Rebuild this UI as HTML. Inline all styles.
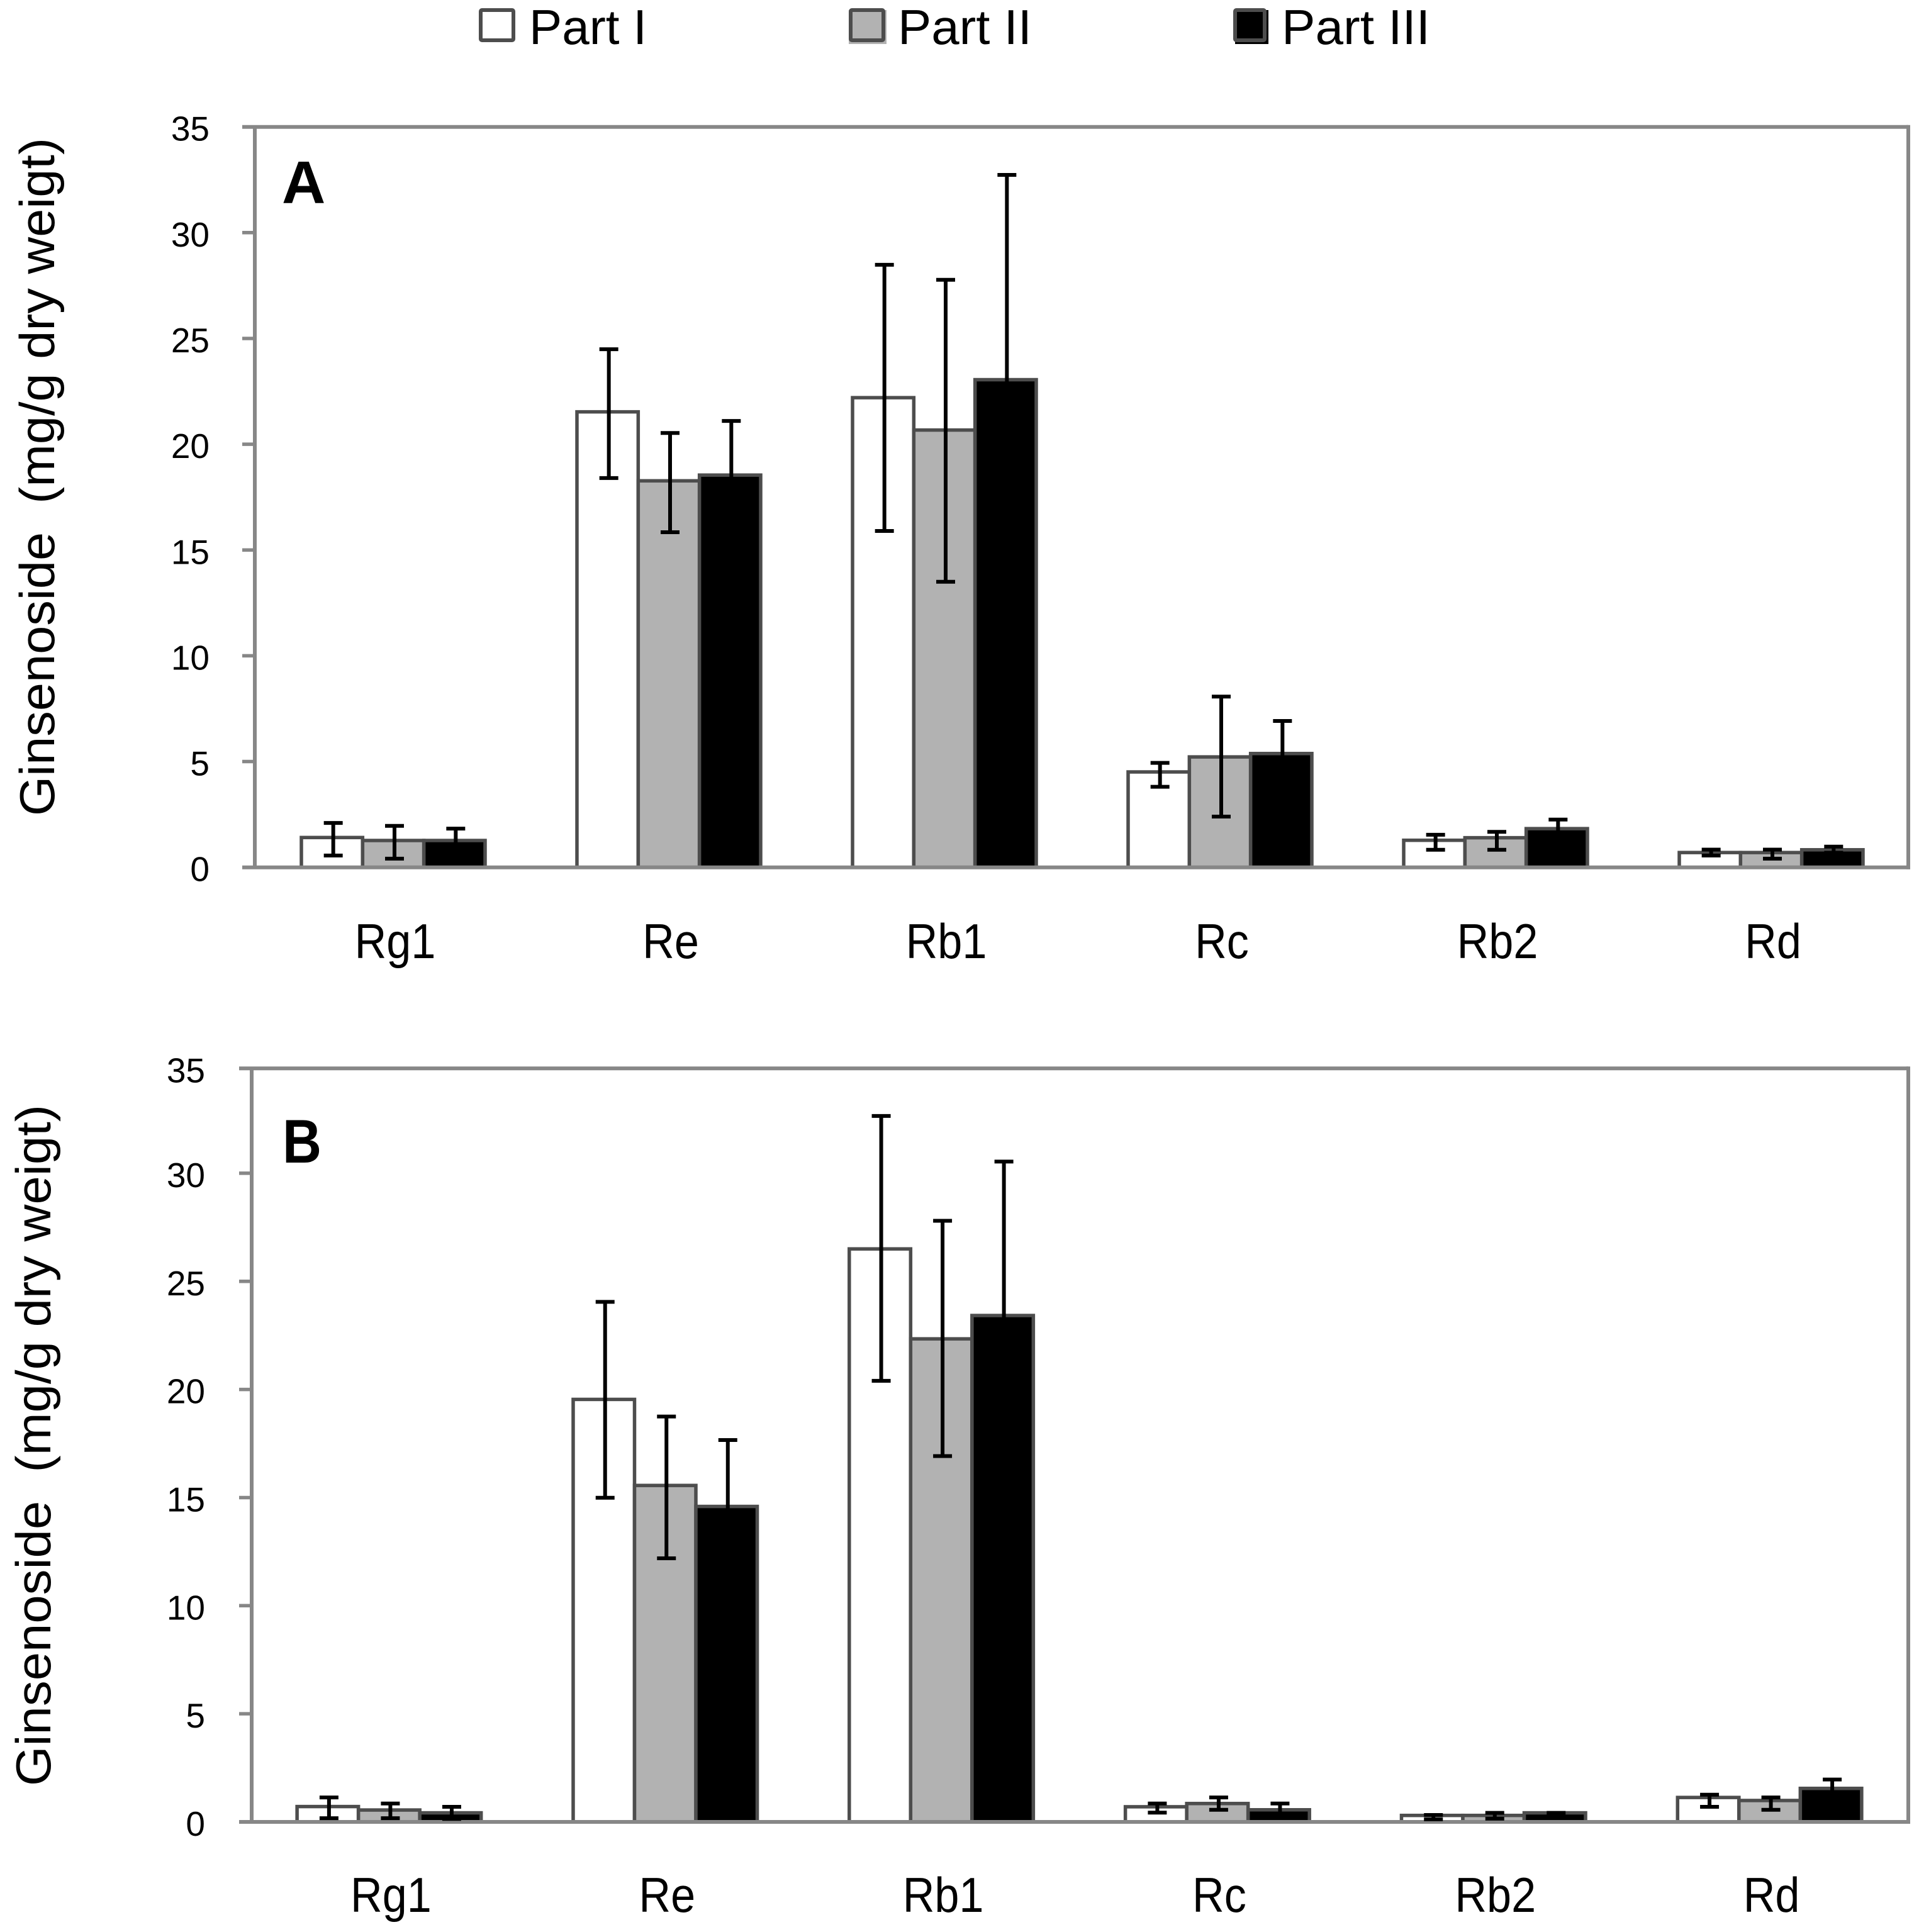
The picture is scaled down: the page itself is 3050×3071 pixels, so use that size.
<!DOCTYPE html>
<html lang="en">
<head>
<meta charset="utf-8">
<title>Ginsenoside content by part</title>
<style>
html,body{margin:0;padding:0;background:#fff;}
svg{display:block;}
text{font-family:"Liberation Sans",sans-serif;fill:#000;white-space:pre;}
</style>
</head>
<body>
<svg id="figure" xmlns="http://www.w3.org/2000/svg" width="3050" height="3071" viewBox="0 0 3050 3071">
  <rect x="0" y="0" width="3050" height="3071" fill="#fff"/>
  <g>
    <g>
      <rect x="764" y="16" width="52" height="48" rx="2" fill="#fff" stroke="#4d4d4d" stroke-width="6"/>
      <text x="841" y="70" font-size="78" textLength="187" lengthAdjust="spacingAndGlyphs">Part I</text>
    </g>
    <g>
      <rect x="1352" y="19" width="54" height="48" fill="#b2b2b2" stroke="#b2b2b2" stroke-width="6"/>
      <rect x="1352" y="16" width="52" height="48" rx="2" fill="#b2b2b2" stroke="#4d4d4d" stroke-width="6"/>
      <text x="1427" y="70" font-size="78" textLength="213" lengthAdjust="spacingAndGlyphs">Part II</text>
    </g>
    <g>
      <rect x="1966" y="19" width="47" height="48" fill="#000" stroke="#000" stroke-width="6"/>
      <rect x="1963" y="16" width="47" height="48" rx="2" fill="#000" stroke="#4d4d4d" stroke-width="6"/>
      <text x="2037" y="70" font-size="78" textLength="236" lengthAdjust="spacingAndGlyphs">Part III</text>
    </g>
  </g>
  <text transform="translate(86,1297) rotate(-90)" font-size="78" textLength="1078" lengthAdjust="spacingAndGlyphs">Ginsenoside  (mg/g dry weigt)</text>
  <text transform="translate(80,2839) rotate(-90)" font-size="78" textLength="1083" lengthAdjust="spacingAndGlyphs">Ginsenoside  (mg/g dry weigt)</text>
  <g id="panel-a"></g>
  <g id="panel-b"></g>
  <text x="448" y="323" font-size="96" font-weight="bold">A</text>
  <text x="449" y="1848" font-size="98" font-weight="bold" textLength="62" lengthAdjust="spacingAndGlyphs">B</text>
</svg>
<script>
const categories = ["Rg1", "Re", "Rb1", "Rc", "Rb2", "Rd"];
const tickLabels = [0, 5, 10, 15, 20, 25, 30, 35];

const panelAPart1 = [1.41, 21.53, 22.2, 4.51, 1.28, 0.70];
const panelAPart2 = [1.27, 18.27, 20.67, 5.22, 1.40, 0.70];
const panelAPart3 = [1.27, 18.54, 23.05, 5.38, 1.83, 0.83];
const panelAUpper1 = [2.10, 24.49, 28.48, 4.94, 1.54, 0.84];
const panelAUpper2 = [1.96, 20.53, 27.77, 8.07, 1.68, 0.84];
const panelAUpper3 = [1.83, 21.10, 32.73, 6.92, 2.26, 0.98];
const panelALower1 = [0.56, 18.40, 15.90, 3.81, 0.83, 0.56];
const panelALower2 = [0.41, 15.84, 13.50, 2.40, 0.83, 0.41];
const panelALower3 = [0.71, 16.00, 13.37, 3.84, 1.40, 0.69];

const panelBPart1 = [0.71, 19.54, 26.50, 0.70, 0.30, 1.13];
const panelBPart2 = [0.55, 15.56, 22.34, 0.85, 0.30, 0.99];
const panelBPart3 = [0.42, 14.59, 23.42, 0.56, 0.42, 1.55];
const panelBUpper1 = [1.13, 24.05, 32.65, 0.85, 0.32, 1.26];
const panelBUpper2 = [0.85, 18.75, 27.80, 1.13, 0.42, 1.13];
const panelBUpper3 = [0.70, 17.66, 30.54, 0.85, 0.42, 1.96];
const panelBLower1 = [0.17, 14.99, 20.40, 0.43, 0.12, 0.70];
const panelBLower2 = [0.17, 12.19, 16.92, 0.56, 0.15, 0.56];
const panelBLower3 = [0.14, 11.50, 16.30, 0.27, 0.25, 1.14];

const SVG_NS = "http://www.w3.org/2000/svg";
const fills = ["#ffffff", "#b2b2b2", "#000000"];

function make(parent, tag, attrs) {
  const node = document.createElementNS(SVG_NS, tag);
  for (const key in attrs) node.setAttribute(key, attrs[key]);
  parent.appendChild(node);
  return node;
}

function drawPanel(cfg) {
  const root = document.getElementById(cfg.id);
  const band = (cfg.right - cfg.left) / categories.length;
  const barW = band / 4.5;
  const yOf = function (v) { return cfg.zero - v * cfg.unit; };
  const xOf = function (cat, s) { return cfg.left + band * cat + 0.75 * barW + cfg.barShift + s * barW; };

  const bars = make(root, "g", {});
  
  
  cfg.values.forEach(function (series, s) {
    series.forEach(function (v, c) {
      const bar = make(bars, "rect", {
        x: xOf(c, s), y: yOf(v), width: barW, height: cfg.zero - yOf(v),
        fill: fills[s], stroke: "#4d4d4d", "stroke-width": 5.5
      });
      
      
    });
  });

  const frameColor = "#878787";
  const frame = make(root, "g", {});
  
  
  const lines = [
    [cfg.left, cfg.top, cfg.left, cfg.zero],
    [cfg.right, cfg.top - 3, cfg.right, cfg.zero + 3],
    [cfg.left - 20, cfg.top, cfg.right, cfg.top],
    [cfg.left - 20, cfg.zero, cfg.right + 3, cfg.zero]
  ];
  lines.forEach(function (p) {
    make(frame, "line", { x1: p[0], y1: p[1], x2: p[2], y2: p[3], stroke: frameColor, "stroke-width": 6 });
  });

  const ticks = make(root, "g", {});
  
  
  tickLabels.forEach(function (t) {
    const ty = yOf(t);
    if (t > 0 && t < 35) {
      const mark = make(ticks, "line", { x1: cfg.left - 20, y1: ty, x2: cfg.left, y2: ty, stroke: frameColor, "stroke-width": 5.5 });
      
      
    }
    const label = make(ticks, "text", {
      x: cfg.left - cfg.labelGap, y: Math.max(ty, cfg.top) + 22, "font-size": 55, "text-anchor": "end"
    });
    label.textContent = String(t);
    
    
  });

  const errors = make(root, "g", {});
  
  
  cfg.upper.forEach(function (series, s) {
    series.forEach(function (hi, c) {
      const lo = cfg.lower[s][c];
      const ex = xOf(c, s) + barW / 2 + 2;
      const e = make(errors, "g", { stroke: "#000", "stroke-width": 6, fill: "none" });
      
      
      make(e, "line", { x1: ex, y1: yOf(hi), x2: ex, y2: yOf(lo) });
      make(e, "line", { x1: ex - 15, y1: yOf(hi), x2: ex + 15, y2: yOf(hi) });
      make(e, "line", { x1: ex - 15, y1: yOf(lo), x2: ex + 15, y2: yOf(lo) });
    });
  });

  const xAxis = make(root, "g", {});
  
  
  categories.forEach(function (name, c) {
    const cx = cfg.left + band * (c + 0.5) + cfg.labelShift;
    const label = make(xAxis, "text", {
      transform: "translate(" + cx + "," + cfg.labelY + ") scale(0.9,1)",
      "font-size": 78, "text-anchor": "middle"
    });
    label.textContent = name;
    
    
  });
}

drawPanel({
  id: "panel-a", left: 405, right: 3033, top: 201.7, zero: 1378.7, unit: 33.63,
  labelY: 1523, labelShift: 4, barShift: 1, labelGap: 72,
  values: [panelAPart1, panelAPart2, panelAPart3],
  upper: [panelAUpper1, panelAUpper2, panelAUpper3],
  lower: [panelALower1, panelALower2, panelALower3]
});
drawPanel({
  id: "panel-b", left: 400, right: 3033, top: 1698.3, zero: 2896, unit: 34.37,
  labelY: 3039, labelShift: 2, barShift: -1, labelGap: 74,
  values: [panelBPart1, panelBPart2, panelBPart3],
  upper: [panelBUpper1, panelBUpper2, panelBUpper3],
  lower: [panelBLower1, panelBLower2, panelBLower3]
});
</script>
</body>
</html>
